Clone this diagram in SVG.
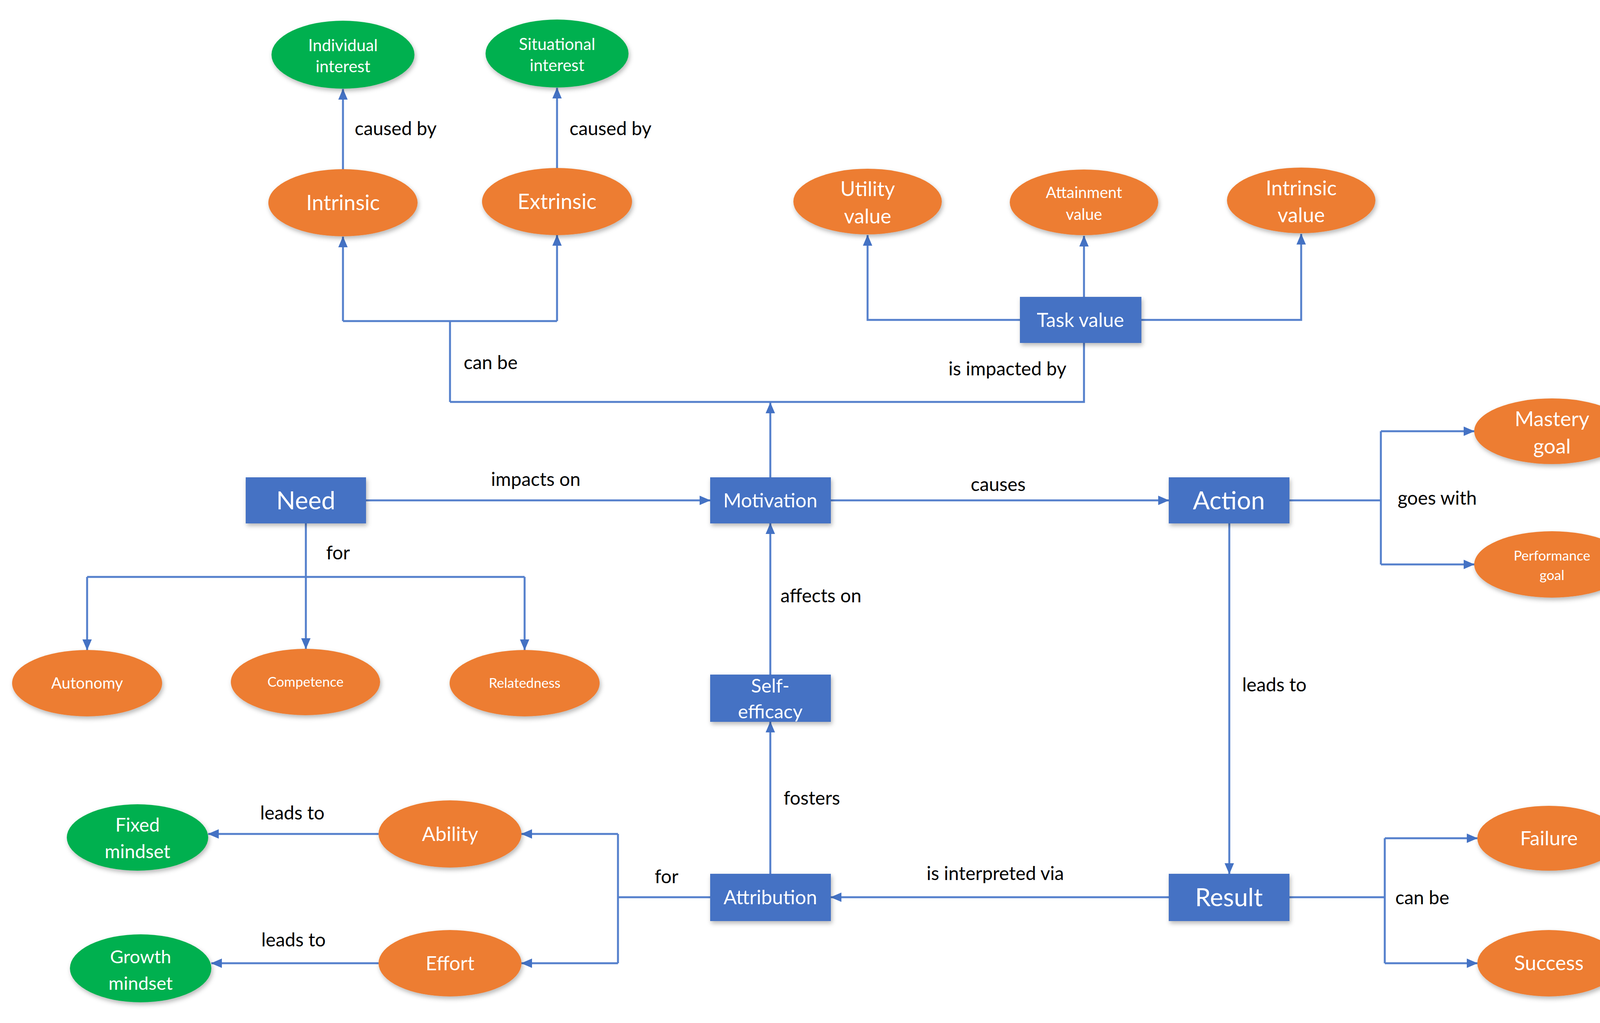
<svg xmlns="http://www.w3.org/2000/svg" width="4211" height="2619" viewBox="0 0 4211 2619">
<defs>
<style>
.bg{fill:#ffffff}
.or{fill:#ED7D31}
.gr{fill:#00B050}
.bx{fill:#4472C4}
.nt{fill:#ffffff;font-family:Lato,"Liberation Sans",sans-serif;text-anchor:middle}
.lb{fill:#000000;font-family:Lato,"Liberation Sans",sans-serif;font-size:48px}
.cn{fill:none;stroke:#5580CC;stroke-width:5}
</style>
<marker id="arr" markerWidth="28" markerHeight="24" refX="27" refY="12" orient="auto" markerUnits="userSpaceOnUse">
<path d="M0,0 L28,12 L0,24 z" fill="#4472C4"/>
</marker>
<filter id="sh" x="-20%" y="-20%" width="140%" height="150%">
<feDropShadow dx="3" dy="6" stdDeviation="6" flood-color="#000" flood-opacity="0.28"/>
</filter>
</defs>
<rect class="bg" x="0" y="0" width="4211" height="2619"/>

<g id="connectors">
<path class="cn" d="M878,435 V228" marker-end="url(#arr)"/>
<path class="cn" d="M1426,430 V225" marker-end="url(#arr)"/>
<path class="cn" d="M1152,1029 V822 M878,822 H1426"/>
<path class="cn" d="M878,822 V606" marker-end="url(#arr)"/>
<path class="cn" d="M1426,822 V602" marker-end="url(#arr)"/>
<path class="cn" d="M1152,1029 H2775 V878"/>
<path class="cn" d="M1972,1222 V1031" marker-end="url(#arr)"/>
<path class="cn" d="M2611,819 H2221 V602" marker-end="url(#arr)"/>
<path class="cn" d="M2775,760 V604" marker-end="url(#arr)"/>
<path class="cn" d="M2922,819 H3331 V599" marker-end="url(#arr)"/>
<path class="cn" d="M937,1281 H1818" marker-end="url(#arr)"/>
<path class="cn" d="M2127,1281 H2992" marker-end="url(#arr)"/>
<path class="cn" d="M3301,1281 H3535 M3535,1104 V1445"/>
<path class="cn" d="M3535,1104 H3774" marker-end="url(#arr)"/>
<path class="cn" d="M3535,1445 H3774" marker-end="url(#arr)"/>
<path class="cn" d="M783,1340 V1661" marker-end="url(#arr)"/>
<path class="cn" d="M223,1477 H1343"/>
<path class="cn" d="M223,1477 V1664" marker-end="url(#arr)"/>
<path class="cn" d="M1343,1477 V1664" marker-end="url(#arr)"/>
<path class="cn" d="M1972,1727 V1340" marker-end="url(#arr)"/>
<path class="cn" d="M1972,2237 V1848" marker-end="url(#arr)"/>
<path class="cn" d="M3147,1340 V2237" marker-end="url(#arr)"/>
<path class="cn" d="M2992,2297 H2127" marker-end="url(#arr)"/>
<path class="cn" d="M3301,2297 H3545 M3545,2146 V2466"/>
<path class="cn" d="M3545,2146 H3782" marker-end="url(#arr)"/>
<path class="cn" d="M3545,2466 H3782" marker-end="url(#arr)"/>
<path class="cn" d="M1818,2297 H1582 M1582,2135 V2466"/>
<path class="cn" d="M1582,2135 H1335" marker-end="url(#arr)"/>
<path class="cn" d="M1582,2466 H1335" marker-end="url(#arr)"/>
<path class="cn" d="M969,2135 H533" marker-end="url(#arr)"/>
<path class="cn" d="M969,2466 H541" marker-end="url(#arr)"/>
</g>

<g id="labels">
<text class="lb" x="908" y="346">caused by</text>
<text class="lb" x="1458" y="346">caused by</text>
<text class="lb" x="1187" y="945">can be</text>
<text class="lb" x="2428" y="961">is impacted by</text>
<text class="lb" x="1257" y="1244">impacts on</text>
<text class="lb" x="2485" y="1257">causes</text>
<text class="lb" x="3578" y="1292">goes with</text>
<text class="lb" x="835" y="1432">for</text>
<text class="lb" x="1998" y="1542">affects on</text>
<text class="lb" x="3180" y="1770">leads to</text>
<text class="lb" x="2006" y="2060">fosters</text>
<text class="lb" x="666" y="2098">leads to</text>
<text class="lb" x="1676" y="2261">for</text>
<text class="lb" x="2372" y="2253">is interpreted via</text>
<text class="lb" x="3572" y="2315">can be</text>
<text class="lb" x="669" y="2423">leads to</text>
</g>

<g id="individual-interest">
<ellipse class="gr" cx="878" cy="140" rx="183" ry="87" filter="url(#sh)"/>
<text class="nt" x="878" y="131" font-size="42">Individual</text>
<text class="nt" x="878" y="185" font-size="42">interest</text>
</g>
<g id="situational-interest">
<ellipse class="gr" cx="1426" cy="137" rx="183" ry="87" filter="url(#sh)"/>
<text class="nt" x="1426" y="128" font-size="42">Situational</text>
<text class="nt" x="1426" y="182" font-size="42">interest</text>
</g>
<g id="intrinsic">
<ellipse class="or" cx="878" cy="519" rx="191" ry="86" filter="url(#sh)"/>
<text class="nt" x="878" y="538" font-size="54">Intrinsic</text>
</g>
<g id="extrinsic">
<ellipse class="or" cx="1426" cy="516" rx="192" ry="86" filter="url(#sh)"/>
<text class="nt" x="1426" y="535" font-size="54">Extrinsic</text>
</g>
<g id="utility-value">
<ellipse class="or" cx="2221" cy="516" rx="190" ry="84" filter="url(#sh)"/>
<text class="nt" x="2221" y="502" font-size="52">Utility</text>
<text class="nt" x="2221" y="572" font-size="52">value</text>
</g>
<g id="attainment-value">
<ellipse class="or" cx="2775" cy="518" rx="190" ry="84" filter="url(#sh)"/>
<text class="nt" x="2775" y="507" font-size="40">Attainment</text>
<text class="nt" x="2775" y="563" font-size="40">value</text>
</g>
<g id="intrinsic-value">
<ellipse class="or" cx="3331" cy="513" rx="190" ry="84" filter="url(#sh)"/>
<text class="nt" x="3331" y="500" font-size="52">Intrinsic</text>
<text class="nt" x="3331" y="569" font-size="52">value</text>
</g>
<g id="task-value">
<rect class="bx" x="2611" y="760" width="311" height="118" filter="url(#sh)"/>
<text class="nt" x="2766" y="837" font-size="50">Task value</text>
</g>
<g id="mastery-goal">
<ellipse class="or" cx="3973" cy="1104" rx="199" ry="84" filter="url(#sh)"/>
<text class="nt" x="3973" y="1091" font-size="53">Mastery</text>
<text class="nt" x="3973" y="1161" font-size="53">goal</text>
</g>
<g id="performance-goal">
<ellipse class="or" cx="3973" cy="1445" rx="199" ry="85" filter="url(#sh)"/>
<text class="nt" x="3973" y="1435" font-size="35">Performance</text>
<text class="nt" x="3973" y="1485" font-size="35">goal</text>
</g>
<g id="need">
<rect class="bx" x="629" y="1222" width="308" height="118" filter="url(#sh)"/>
<text class="nt" x="783" y="1304" font-size="64">Need</text>
</g>
<g id="motivation">
<rect class="bx" x="1818" y="1222" width="309" height="118" filter="url(#sh)"/>
<text class="nt" x="1972" y="1299" font-size="50">Motivation</text>
</g>
<g id="action">
<rect class="bx" x="2992" y="1222" width="309" height="118" filter="url(#sh)"/>
<text class="nt" x="3146" y="1304" font-size="64">Action</text>
</g>
<g id="autonomy">
<ellipse class="or" cx="223" cy="1749" rx="192" ry="85" filter="url(#sh)"/>
<text class="nt" x="223" y="1763" font-size="40">Autonomy</text>
</g>
<g id="competence">
<ellipse class="or" cx="782" cy="1746" rx="191" ry="85" filter="url(#sh)"/>
<text class="nt" x="782" y="1758" font-size="35">Competence</text>
</g>
<g id="relatedness">
<ellipse class="or" cx="1343" cy="1749" rx="192" ry="85" filter="url(#sh)"/>
<text class="nt" x="1343" y="1761" font-size="35">Relatedness</text>
</g>
<g id="self-efficacy">
<rect class="bx" x="1818" y="1727" width="309" height="121" filter="url(#sh)"/>
<text class="nt" x="1972" y="1773" font-size="49">Self-</text>
<text class="nt" x="1972" y="1839" font-size="49">efficacy</text>
</g>
<g id="fixed-mindset">
<ellipse class="gr" cx="352" cy="2144" rx="181" ry="85" filter="url(#sh)"/>
<text class="nt" x="352" y="2129" font-size="48">Fixed</text>
<text class="nt" x="352" y="2197" font-size="48">mindset</text>
</g>
<g id="ability">
<ellipse class="or" cx="1152" cy="2135" rx="183" ry="86" filter="url(#sh)"/>
<text class="nt" x="1152" y="2153" font-size="51">Ability</text>
</g>
<g id="growth-mindset">
<ellipse class="gr" cx="360" cy="2479" rx="181" ry="87" filter="url(#sh)"/>
<text class="nt" x="360" y="2466" font-size="47">Growth</text>
<text class="nt" x="360" y="2534" font-size="47">mindset</text>
</g>
<g id="effort">
<ellipse class="or" cx="1152" cy="2466" rx="183" ry="85" filter="url(#sh)"/>
<text class="nt" x="1152" y="2484" font-size="50">Effort</text>
</g>
<g id="attribution">
<rect class="bx" x="1818" y="2237" width="309" height="121" filter="url(#sh)"/>
<text class="nt" x="1972" y="2315" font-size="50">Attribution</text>
</g>
<g id="result">
<rect class="bx" x="2992" y="2237" width="309" height="121" filter="url(#sh)"/>
<text class="nt" x="3146" y="2320" font-size="64">Result</text>
</g>
<g id="failure">
<ellipse class="or" cx="3965" cy="2146" rx="183" ry="83" filter="url(#sh)"/>
<text class="nt" x="3965" y="2164" font-size="51">Failure</text>
</g>
<g id="success">
<ellipse class="or" cx="3965" cy="2466" rx="183" ry="85" filter="url(#sh)"/>
<text class="nt" x="3965" y="2484" font-size="52">Success</text>
</g>
</svg>
